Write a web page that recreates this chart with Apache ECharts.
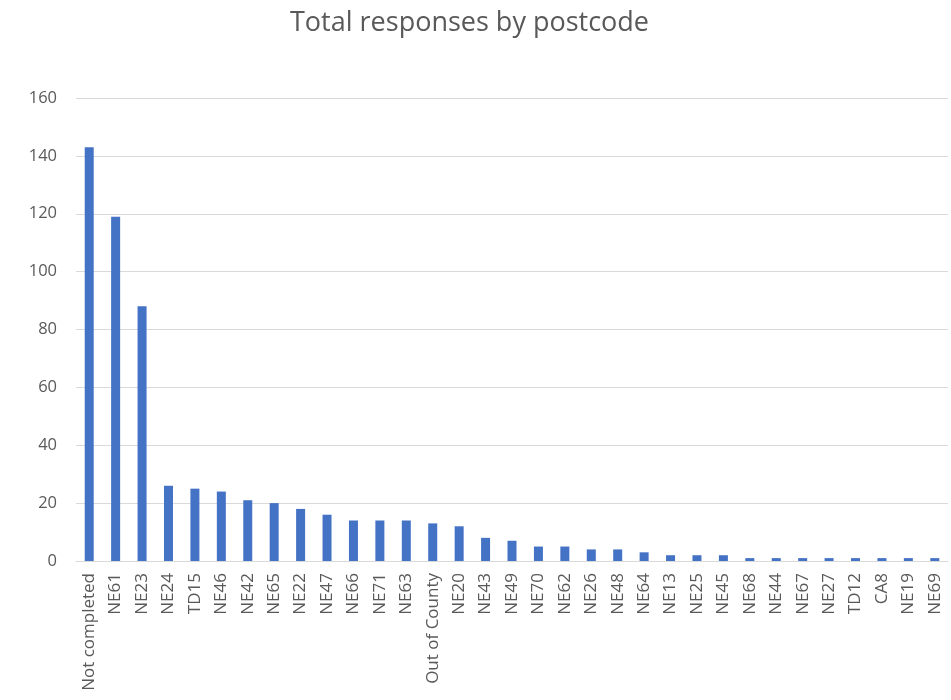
<!DOCTYPE html>
<html>
<head>
<meta charset="utf-8">
<title>Total responses by postcode</title>
<script src="https://cdn.jsdelivr.net/npm/echarts@6/dist/echarts.min.js"></script>
<style>
  html, body { margin: 0; padding: 0; background: #fff; }
  #chart { width: 951px; height: 700px; }
</style>
</head>
<body>
<div id="chart"></div>
<script>
// postcodes, in the order shown
var postcodes = ['Not completed', 'NE61', 'NE23', 'NE24', 'TD15', 'NE46', 'NE42', 'NE65', 'NE22', 'NE47',
  'NE66', 'NE71', 'NE63', 'Out of County', 'NE20', 'NE43', 'NE49', 'NE70', 'NE62', 'NE26', 'NE48',
  'NE64', 'NE13', 'NE25', 'NE45', 'NE68', 'NE44', 'NE67', 'NE27', 'TD12', 'CA8', 'NE19', 'NE69'];
// number of responses per postcode
var responses = [143, 119, 88, 26, 25, 24, 21, 20, 18, 16,
  14, 14, 14, 13, 12, 8, 7, 5, 5, 4, 4,
  3, 2, 2, 2, 1, 1, 1, 1, 1, 1, 1, 1];
var yTicks = { min: 0, max: 160, step: 20 };

var chart = echarts.init(document.getElementById('chart'));
var fontFam = '"Open Sans", "Noto Sans", sans-serif';

chart.setOption({
  animation: false,
  title: {
    text: 'Total responses by postcode',
    left: 285,
    top: 5,
    textStyle: { fontFamily: fontFam, fontSize: 27, fontWeight: 'normal', color: '#595959' }
  },
  grid: { left: 76, right: 3, top: 98, bottom: 139, containLabel: false },
  xAxis: {
    type: 'category',
    data: postcodes,
    axisLine: { lineStyle: { color: '#d9d9d9' } },
    axisTick: { show: false },
    axisLabel: {
      interval: 0,
      rotate: 90,
      margin: 12,
      fontFamily: fontFam,
      fontSize: 17,
      color: '#595959'
    }
  },
  yAxis: {
    type: 'value',
    min: yTicks.min,
    max: yTicks.max,
    interval: yTicks.step,
    axisLine: { show: false },
    axisTick: { show: false },
    splitLine: { lineStyle: { color: '#d9d9d9' } },
    axisLabel: { margin: 19, fontFamily: fontFam, fontSize: 16.5, color: '#595959' }
  },
  series: [{
    name: 'Total',
    type: 'bar',
    data: responses,
    barWidth: 9,
    itemStyle: { color: '#4472c4' }
  }]
});
</script>
</body>
</html>
